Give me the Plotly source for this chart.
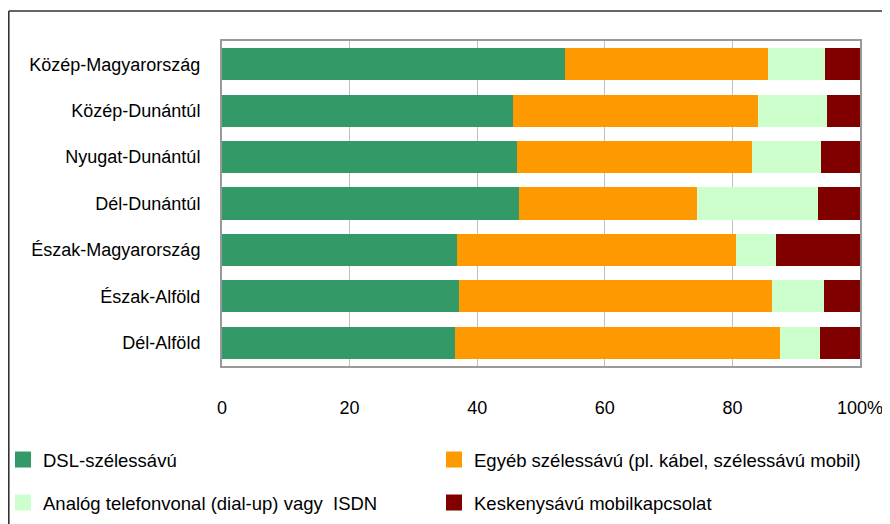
import plotly.graph_objects as go

regions = ["Közép-Magyarország", "Közép-Dunántúl", "Nyugat-Dunántúl", "Dél-Dunántúl",
           "Észak-Magyarország", "Észak-Alföld", "Dél-Alföld"]
dsl = [53.8, 45.6, 46.2, 46.6, 36.9, 37.2, 36.5]
egyeb = [31.8, 38.4, 36.9, 27.8, 43.6, 49.0, 50.9]
analog = [8.9, 10.8, 10.8, 19.0, 6.3, 8.1, 6.3]
keskeny = [5.5, 5.2, 6.1, 6.6, 13.2, 5.7, 6.3]

series_names = ["DSL-szélessávú",
                "Egyéb szélessávú (pl. kábel, szélessávú mobil)",
                "Analóg telefonvonal (dial-up) vagy  ISDN",
                "Keskenysávú mobilkapcsolat"]
series_values = [dsl, egyeb, analog, keskeny]
colors = ["#339966", "#FF9900", "#CCFFCC", "#800000"]

tick_vals = [0, 20, 40, 60, 80, 100]
tick_text = ["0", "20", "40", "60", "80", "100%"]

# page has an 8px body margin; figure is sized to fill the rest of the window
OFF = 8
W, H = 890 - OFF, 524 - OFF
L, R, T, B = 222 - OFF, 30, 41 - OFF, 158
pw, ph = W - L - R, H - T - B

def px_x(p):  # p in window pixels
    return (p - OFF - L) / pw

def px_y(p):
    return (H - B - (p - OFF)) / ph

FONT = "Liberation Sans, Arial, sans-serif"
fig = go.Figure()

for name, vals, col in zip(series_names, series_values, colors):
    fig.add_trace(go.Bar(y=regions, x=vals, name=name, orientation="h",
                         marker=dict(color=col, line=dict(width=0)),
                         showlegend=False))

legend_ids = ["legend", "legend2", "legend3", "legend4"]
for name, col, lid in zip(series_names, colors, legend_ids):
    fig.add_trace(go.Scatter(x=[None], y=[None], mode="markers", name=name,
                             marker=dict(symbol="square", size=17, color=col),
                             legend=lid, showlegend=True))

leg_pos = {"legend": (3, 460), "legend2": (434, 460),
           "legend3": (3, 503), "legend4": (434, 503)}
leg_common = dict(xanchor="left", yanchor="middle", bgcolor="rgba(0,0,0,0)",
                  font=dict(family=FONT, size=18.5, color="#000000"), itemwidth=30)

fig.update_layout(
    width=W, height=H,
    margin=dict(l=L, r=R, t=T, b=B, pad=0, autoexpand=False),
    barmode="stack", bargap=0.31,
    paper_bgcolor="white", plot_bgcolor="white",
    font=dict(family=FONT, size=18, color="#000000"),
    xaxis=dict(range=[0, 100], tickvals=tick_vals, ticktext=tick_text,
               showgrid=True, gridcolor="#C0C0C0", gridwidth=1.3,
               showline=True, mirror=True, linecolor="#999999", linewidth=2,
               ticks="", ticklabelstandoff=24, zeroline=False,
               tickfont=dict(family=FONT, size=18, color="#000000")),
    yaxis=dict(autorange="reversed", showgrid=False,
               showline=True, mirror=True, linecolor="#999999", linewidth=2,
               ticks="", ticklabelstandoff=16,
               tickfont=dict(family=FONT, size=18, color="#000000")),
    **{lid: dict(x=px_x(p[0]), y=px_y(p[1]), **leg_common) for lid, p in leg_pos.items()},
    shapes=[
        dict(type="line", xref="paper", yref="paper",
             x0=px_x(8.8), x1=px_x(895), y0=px_y(11), y1=px_y(11),
             line=dict(color="#333333", width=1.6)),
        dict(type="line", xref="paper", yref="paper",
             x0=px_x(8.8), x1=px_x(8.8), y0=px_y(11), y1=px_y(530),
             line=dict(color="#333333", width=1.6)),
    ],
)

fig.write_html("out.html")
